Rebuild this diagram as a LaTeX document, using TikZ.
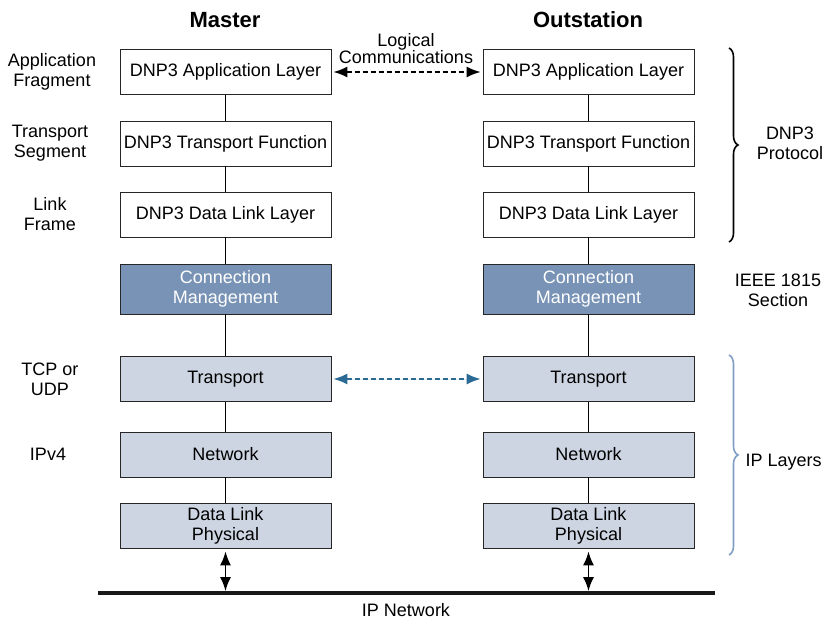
\documentclass[tikz,border=0pt]{standalone}
\usepackage{fontspec}
\setmainfont{Liberation Sans}
\usetikzlibrary{arrows.meta,decorations.pathreplacing}
\definecolor{cmdark}{HTML}{7893B5}
\definecolor{iplight}{HTML}{CDD5E2}
\definecolor{arrblue}{HTML}{2A6A94}
\definecolor{bracebl}{HTML}{809DC3}
\begin{document}
\begin{tikzpicture}[x=1pt,y=-1pt,
  layer/.style={draw=black!85, line width=0.9pt, minimum width=211pt, minimum height=45pt, inner sep=0pt, align=center, font=\fontsize{18}{20}\selectfont},
  dnpbox/.style={layer, fill=white},
  cmbox/.style={layer, fill=cmdark, text=white, minimum height=50pt},
  ipbox/.style={layer, fill=iplight},
  side/.style={align=center, font=\fontsize{18}{20}\selectfont},
  head/.style={font=\fontsize{22}{26}\selectfont\bfseries},
  stack/.style={draw=black, line width=1.1pt},
  bothtip/.style={{Latex[length=14pt,width=11pt]}-{Latex[length=14pt,width=11pt]}},
  bracestyle/.style={decorate, decoration={brace, amplitude=9pt}, line width=1.6pt}
]
\useasboundingbox (0,0) rectangle (822,620);

% headings
\node[head] (mh) at (225,20) {Master};
\node[head] (oh) at (588,20) {Outstation};

% master stack
\node[dnpbox] (ma) at (225.5,72) {DNP3 Application Layer};
\node[dnpbox] (mt) at (225.5,143.5) {DNP3 Transport Function};
\node[dnpbox] (ml) at (225.5,214.5) {DNP3 Data Link Layer};
\node[cmbox]  (mc) at (225.5,289) {Connection\\Management};
\node[ipbox]  (mtr) at (225.5,379) {Transport};
\node[ipbox]  (mn) at (225.5,454.5) {Network};
\node[ipbox]  (md) at (225.5,525.5) {Data Link\\Physical};

% outstation stack
\node[dnpbox] (oa) at (588.5,72) {DNP3 Application Layer};
\node[dnpbox] (ot) at (588.5,143.5) {DNP3 Transport Function};
\node[dnpbox] (ol) at (588.5,214.5) {DNP3 Data Link Layer};
\node[cmbox]  (oc) at (588.5,289) {Connection\\Management};
\node[ipbox]  (otr) at (588.5,379) {Transport};
\node[ipbox]  (on) at (588.5,454.5) {Network};
\node[ipbox]  (od) at (588.5,525.5) {Data Link\\Physical};

% vertical connectors
\foreach \a/\b in {ma/mt,mt/ml,ml/mc,mc/mtr,mtr/mn,mn/md,
                   oa/ot,ot/ol,ol/oc,oc/otr,otr/on,on/od}
  \draw[stack] (\a) -- (\b);

% IP network bus
\coordinate (busl) at (98,593);
\coordinate (busr) at (715,593);
\draw[line width=4pt, black!90] (busl) -- (busr);
\coordinate (mbus) at (225.5,591);
\coordinate (obus) at (588.5,591);
\draw[bothtip, line width=1.4pt] (md.south) ++(0,3) -- (mbus);
\draw[bothtip, line width=1.4pt] (od.south) ++(0,3) -- (obus);
\node[side] (ipnet) at (406,610) {IP Network};

% logical communications
\draw[bothtip, dash pattern=on 5pt off 3pt, line width=1.4pt] (ma.east) ++(2,0) -- ([xshift=-2pt]oa.west);
\node[side, font=\fontsize{18}{17}\selectfont] (logc) at (406,49) {Logical\\Communications};

% transport dashed
\draw[bothtip, draw=arrblue, fill=arrblue, dash pattern=on 5pt off 3pt, line width=1.4pt] ([xshift=2pt]mtr.east) -- ([xshift=-2pt]otr.west);

% side labels
\node[side] (lapp) at (52,72) {Application\\Fragment};
\node[side] (ltr) at (50,143.5) {Transport\\Segment};
\node[side] (llk) at (50,214.5) {Link\\Frame};
\node[side] (ltcp) at (50,379) {TCP or\\UDP};
\node[side] (lip) at (48,454.5) {IPv4};

% braces
\coordinate (b1t) at (729,48);
\coordinate (b1b) at (729,242);
\draw[bracestyle] (b1t) -- (b1b);
\node[side] (dnp) at (790,143) {DNP3\\Protocol};
\node[side] (ieee) at (778,290) {IEEE 1815\\Section};
\coordinate (b2t) at (729,355);
\coordinate (b2b) at (729,555);
\draw[bracestyle, draw=bracebl] (b2t) -- (b2b);
\node[side, anchor=west] (ipl) at (742,462) {IP Layers};
\end{tikzpicture}
\end{document}
